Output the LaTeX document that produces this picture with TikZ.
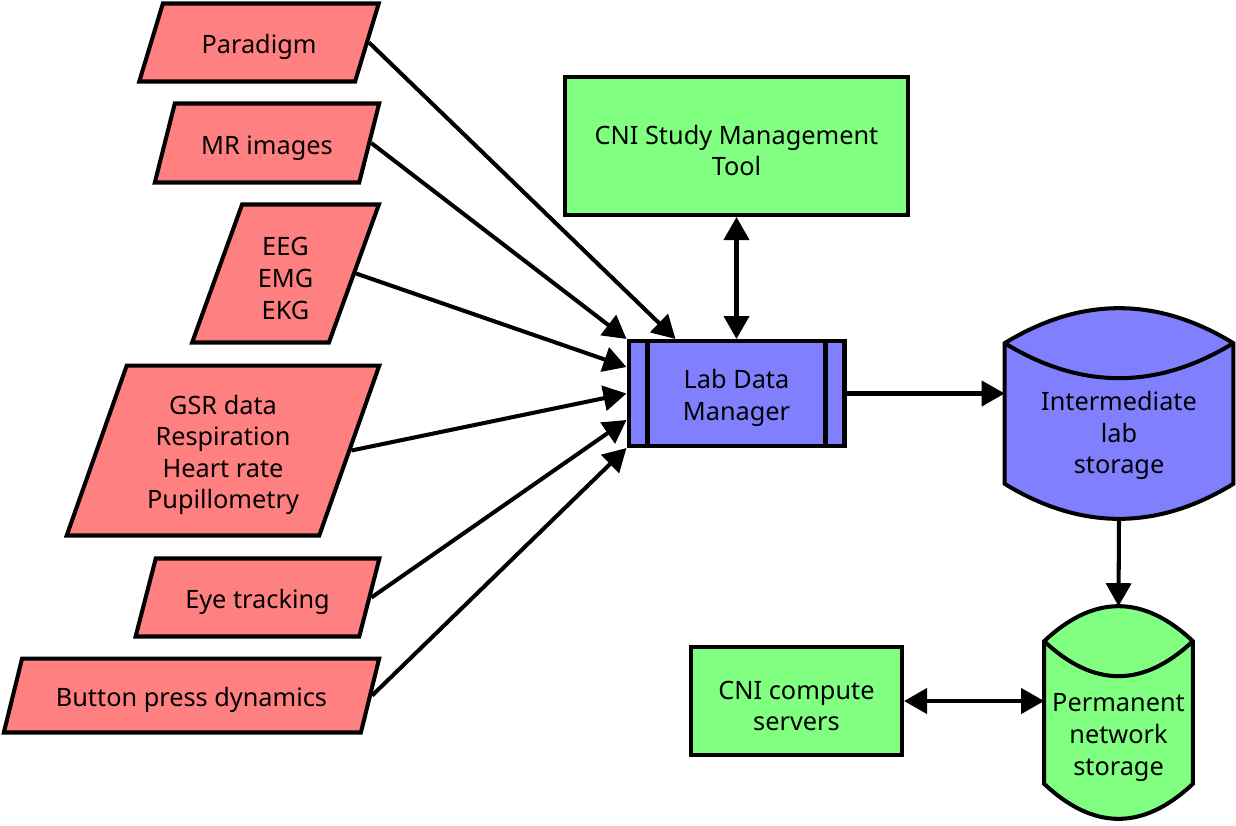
\documentclass[tikz,border=0pt]{standalone}
\usepackage{fontspec}
\setmainfont{Noto Sans}
\usetikzlibrary{shapes.geometric,arrows.meta,calc}
\definecolor{InputRed}{RGB}{255,128,128}
\definecolor{ToolGreen}{RGB}{128,255,128}
\definecolor{LabBlue}{RGB}{128,128,255}
\def\drumcap{0.7cm}
\newcommand{\topstrut}{\rule{0pt}{16pt}}
\tikzset{
  datain/.style={trapezium, trapezium left angle=70, trapezium right angle=110, trapezium stretches=true,
    draw, line width=2.3pt, fill=InputRed, align=center, inner sep=2pt},
  toolbox/.style={rectangle, draw, line width=2.3pt, fill=ToolGreen, align=center},
  procbox/.style={rectangle, draw, line width=2.3pt, fill=LabBlue, align=center},
  drumbody/.style={rectangle, draw=none, inner sep=0pt},
  drumline/.style={line width=2.3pt, line join=miter},
  drumtxt/.style={align=center, inner sep=0pt},
  arr/.style={-{Triangle[length=0.46cm,width=0.5cm]}, line width=2.3pt},
  dblarr/.style={{Triangle[length=0.46cm,width=0.5cm]}-{Triangle[length=0.46cm,width=0.5cm]}, line width=2.3pt},
}
% storage drum drawn round an empty node
\newcommand{\drum}[2]{%
  \draw[drumline, fill=#2] let \p1=(#1.north west), \p2=(#1.south east) in
    (\x1,{\y1-\drumcap}) .. controls ({\x1+(\x2-\x1)/3},{\y1+\drumcap/3}) and ({\x2-(\x2-\x1)/3},{\y1+\drumcap/3}) .. (\x2,{\y1-\drumcap})
    -- (\x2,{\y2+\drumcap}) .. controls ({\x2-(\x2-\x1)/3},{\y2-\drumcap/3}) and ({\x1+(\x2-\x1)/3},{\y2-\drumcap/3}) .. (\x1,{\y2+\drumcap})
    -- cycle;
  \draw[drumline] let \p1=(#1.north west), \p2=(#1.south east) in
    (\x1,{\y1-\drumcap}) .. controls ({\x1+(\x2-\x1)/3},{\y1-7*\drumcap/3}) and ({\x2-(\x2-\x1)/3},{\y1-7*\drumcap/3}) .. (\x2,{\y1-\drumcap});
}
\begin{document}
\begin{tikzpicture}[x=0.02cm, y=-0.02cm, font=\fontsize{14.4}{18}\selectfont]
  \useasboundingbox (0,0) rectangle (1236,825);

  % inputs
  \node[datain, minimum width=4.82cm, minimum height=1.56cm] (para) at (259,42.5) {\topstrut Paradigm};
  \node[datain, minimum width=4.5cm, minimum height=1.58cm] (mri) at (267,143) {\topstrut MR images};
  \node[datain, minimum width=3.76cm, minimum height=2.76cm] (eeg) at (285.5,273.5) {\topstrut EEG\\EMG\\EKG};
  \node[datain, minimum width=6.26cm, minimum height=3.4cm] (gsr) at (223,450.5) {\topstrut GSR data\\Respiration\\Heart rate\\Pupillometry};
  \node[datain, minimum width=4.88cm, minimum height=1.56cm] (eye) at (257.5,597.5) {\topstrut Eye tracking};
  \node[datain, minimum width=7.52cm, minimum height=1.48cm] (btn) at (191.5,695.5) {\topstrut Button press dynamics};

  % lab data manager
  \node[procbox, minimum width=4.32cm, minimum height=2.1cm] (ldm) at (736.5,393.5) {\topstrut Lab Data\\Manager};
  \draw[line width=2.3pt] ([xshift=0.42cm]ldm.north west) -- ([xshift=0.42cm]ldm.south west);
  \draw[line width=2.3pt] ([xshift=-0.42cm]ldm.north east) -- ([xshift=-0.42cm]ldm.south east);

  \node[toolbox, minimum width=6.86cm, minimum height=2.76cm] (smt) at (736.5,146) {\topstrut CNI Study Management\\Tool};
  \node[toolbox, minimum width=4.22cm, minimum height=2.16cm] (cns) at (796.5,701) {\topstrut CNI compute\\servers};

  % storage
  \node[drumbody, minimum width=4.56cm, minimum height=4.2cm] (ils) at (1119,413.5) {};
  \drum{ils}{LabBlue}
  \node[drumtxt] (ilstxt) at ([yshift=-0.44cm]ils.center) {Intermediate\\lab\\storage};
  \node[drumbody, minimum width=2.96cm, minimum height=4.24cm] (pns) at (1118.5,712.5) {};
  \drum{pns}{ToolGreen}
  \node[drumtxt] (pnstxt) at ([yshift=-0.5cm]pns.center) {Permanent\\network\\storage};

  % connectors
  \draw[arr] (para.east) -- ([xshift=0.98cm]ldm.north west);
  \draw[arr] (mri.east) -- (ldm.north west);
  \draw[arr] (eeg.east) -- ([yshift=0.53cm]ldm.west);
  \draw[arr] (gsr.east) -- (ldm.west);
  \draw[arr] (eye.east) -- ([yshift=-0.53cm]ldm.west);
  \draw[arr] (btn.east) -- (ldm.south west);
  \draw[dblarr] (smt.south) -- (ldm.north);
  \draw[arr] (ldm.east) -- (ldm.east -| ils.west);
  \draw[arr] (ils.south) -- (pns.north);
  \draw[dblarr] (cns.east) -- (cns.east -| pns.west);
\end{tikzpicture}
\end{document}
